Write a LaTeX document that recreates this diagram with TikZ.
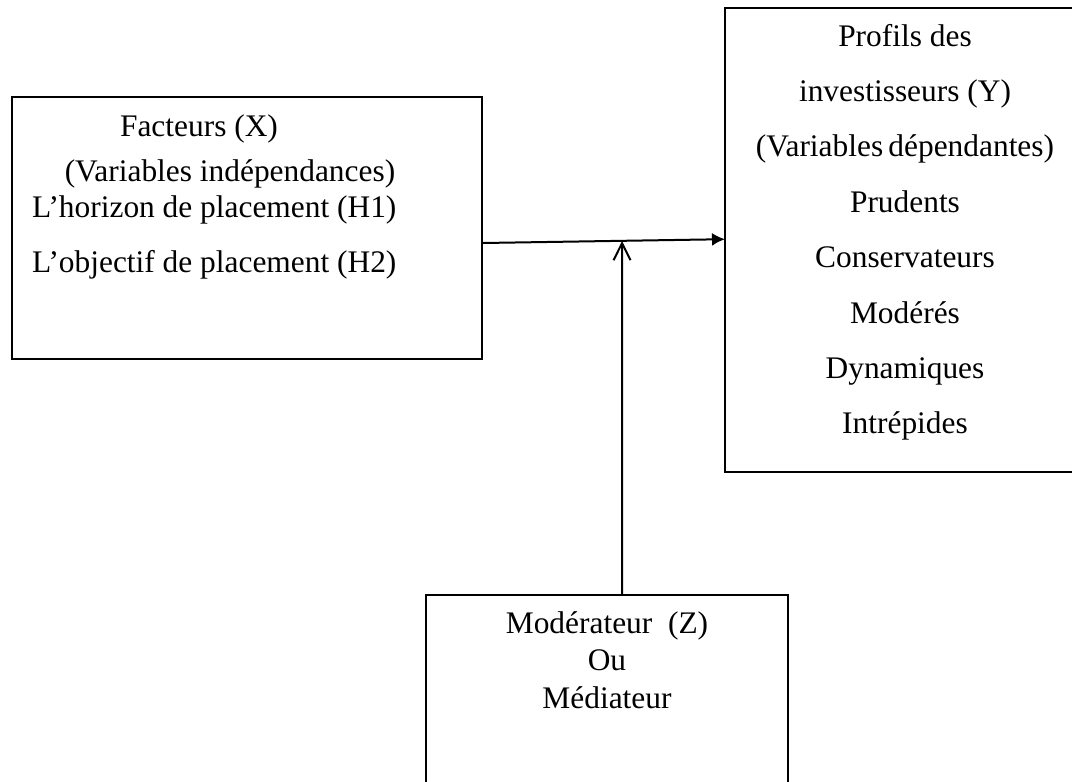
\documentclass[tikz,border=0pt]{standalone}
\usepackage{fontspec}
\setmainfont{Liberation Serif}
\usetikzlibrary{arrows.meta}
\begin{document}
\begin{tikzpicture}[x=1pt,y=-1pt,
  box/.style={draw,line width=2pt,inner sep=0pt,anchor=north west},
  openbox/.style={inner sep=0pt,anchor=north west},
  edge line/.style={line width=2pt},
  txt/.style={inner sep=0pt,font=\fontsize{31.4}{36}\selectfont},
  conn/.style={line width=2pt}]
\useasboundingbox (0,0) rectangle (1072,782);
% boxes
\node[box,minimum width=470pt,minimum height=262pt] (X) at (11,96) {};
\node[openbox,minimum width=347pt,minimum height=464pt] (Y) at (725,8) {};
\draw[edge line] (Y.north east) -- (Y.north west) -- (Y.south west) -- (Y.south east);
\node[openbox,minimum width=362pt,minimum height=187pt] (Z) at (426,595) {};
\draw[edge line] (Z.south west) -- (Z.north west) -- (Z.north east) -- (Z.south east);
% left box text
\node[txt,anchor=base] (x1) at (199,136) {Facteurs (X)};
\node[txt,anchor=base] (x2) at (230,181) {(Variables indépendances)};
\node[txt,anchor=base west] (x3) at (32,217) {L’horizon de placement (H1)};
\node[txt,anchor=base west] (x4) at (32,272) {L’objectif de placement (H2)};
% right box text
\foreach \t [count=\i] in {Profils des,investisseurs (Y),(Variables\,dépendantes),Prudents,Conservateurs,Modérés,Dynamiques,Intrépides}
  \node[txt,anchor=base] (y\i) at (905,{46+55.4*(\i-1)}) {\t};
% bottom box text
\node[txt,anchor=base] (z1) at (607,633) {Modérateur~ (Z)};
\node[txt,anchor=base] (z2) at (607,670) {Ou};
\node[txt,anchor=base] (z3) at (607,708) {Médiateur};
% connectors
\draw[conn,-{Latex[length=13pt,width=13pt]}] ([yshift=-15pt]X.east) -- ([yshift=1pt]Y.west);
\coordinate (m) at (622,241);
\draw[conn,-{Straight Barb[length=17pt,width=17pt,line width=2pt]}] ([xshift=15pt]Z.north) -- (m);
\end{tikzpicture}
\end{document}
